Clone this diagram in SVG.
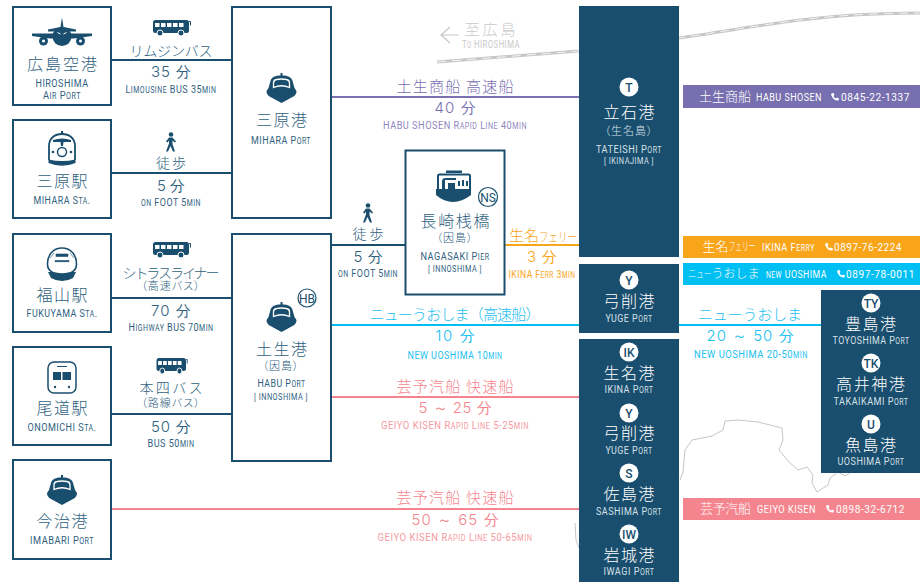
<svg xmlns="http://www.w3.org/2000/svg" width="920" height="582" viewBox="0 0 920 582">
<style>
text{text-anchor:middle}
.j{font-family:"Noto Sans CJK JP","Noto Sans",sans-serif;font-weight:300}
.t{font-size:16px}.m{font-size:14px}.p{font-size:11px;font-feature-settings:"palt";letter-spacing:1px}.r{font-size:15px}.b{font-size:13px}
.n{font-family:"Inter","Lato",sans-serif;font-weight:300;font-size:15px}
.c{font-family:"Liberation Sans Narrow","Roboto",sans-serif;font-size:11px;letter-spacing:.6px}
.c tspan{font-size:8.500px}
.navy{fill:#2f5f80}.w{fill:#fff}.wl{fill:#d5e0e8}.pu{fill:#7a70b2}.pl{fill:#8f87c0}.or{fill:#f9a51a}.cy{fill:#1cc0f2}.pk{fill:#f4858e}.pm{fill:#f69aa2}.gr{fill:#c9c9c9}
.box{fill:#fff;stroke:#1a4e6e;stroke-width:2}
.dark{fill:#1a4e6e}
.line{fill:none;stroke-width:2}
.badge{font-family:"Roboto",sans-serif;font-size:12px;font-weight:500;fill:#1a4e6e}
.ring{font-family:"Liberation Sans Narrow","Roboto",sans-serif;font-size:12px;fill:#1a4e6e}
</style>
<defs>
<g id="ship">
<path fill="#1a4e6e" d="M-1,-15h2v2.500C6,-12.500 10,-11 11,-7L13,0L15,3Q15,7 11,9L0,15L-11,9Q-15,7 -15,3L-13,0L-11,-7C-10,-11 -6,-12.500 -1,-12.500Z"/>
<path fill="#1a4e6e" stroke="#fff" stroke-width="1.300" d="M-8,-0.500V-5Q-8,-8 -5,-8.500Q0,-9.500 5,-8.500Q8,-8 8,-5V-0.500Q0,-4 -8,-0.500Z"/>
</g>
<g id="bus">
<rect x="0" y="0" width="36" height="13" rx="2.500" fill="#1a4e6e"/>
<path fill="none" stroke="#1a4e6e" d="M36,1.500h1.500v4"/>
<g fill="#fff"><rect x="2" y="3" width="4.500" height="4"/><rect x="8" y="3" width="4.500" height="4"/><rect x="14" y="3" width="4.500" height="4"/><rect x="20" y="3" width="4.500" height="4"/><rect x="26" y="3" width="4.500" height="4"/></g>
<g fill="#1a4e6e" stroke="#fff"><circle cx="7" cy="13" r="3"/><circle cx="28" cy="13" r="3"/></g>
</g>
<g id="walk" fill="#1a4e6e">
<circle cx="0" cy="-7.500" r="2.300"/>
<path d="M-2,-4.500H1.500L5,-0.500L4,0.500L1.500,-1.500L1.500,2L4,9.500H2L-0.500,4L-3,9.500H-5L-2,1.500V-1.500L-3.500,0.500L-5,-0.500Z"/>
</g>
<path id="tel" fill="#fff" d="M1,0L2.500,0L3.500,2L2.500,3Q3.500,5 5,5.500L6,4.500L8,5.500L7.500,7.500Q2,8 0,1.500Z"/>
</defs>

<g id="background" fill="none">
<path d="M437,62L579,51L679,38C720,32 760,25 800,20C840,15 880,13 920,13" stroke="#c6c6c6" stroke-width="3"/>
<path d="M437,62L579,51L679,38C720,32 760,25 800,20C840,15 880,13 920,13" stroke="#fff" stroke-width="0.800" stroke-dasharray="9 6"/>
<path d="M680,480L683,472L685,450L692,440L712,436L723,430L725,421L738,420L758,422L782,428L783,440L779,450L789,462L798,470L807,467L813,475L812,483L817,492L828,485L830,478L838,472L845,476L850,473" stroke="#c6c6c6" stroke-width="1"/>
<path d="M575,523L576,540L579,548" stroke="#c6c6c6" stroke-width="1"/>
<g stroke="#c6c6c6" stroke-width="1.200"><path d="M459,35H441M450,27L441,35L450,43"/></g>
<text class="j r gr" x="490" y="35" textLength="51">至広島</text>
<text class="c gr" x="491" y="48" textLength="58" lengthAdjust="spacingAndGlyphs">T<tspan>O</tspan> HIROSHIMA</text>
</g>

<g id="connectors">
<path class="line" stroke="#1a4e6e" d="M111,60H232M111,173H232M111,298H232M111,414H232M331,245H405"/>
<path class="line" stroke="#7a70b2" d="M331,97H579"/>
<path class="line" stroke="#f9a51a" d="M505,245H579"/>
<path class="line" stroke="#00bff3" d="M331,325H579M679,325H821"/>
<path class="line" stroke="#f4858e" d="M331,397H579M111,509H579"/>
<g>
<use href="#bus" x="153" y="20"/>
<text class="j m navy" x="171" y="56" textLength="83">リムジンバス</text>
<text class="n navy" x="171" y="77" textLength="40">35 分</text>
<text class="c navy" x="171" y="93" textLength="91" lengthAdjust="spacingAndGlyphs">L<tspan>IMOUSINE</tspan> BUS 35<tspan>MIN</tspan></text>
<use href="#walk" x="171" y="142"/>
<text class="j m navy" x="171" y="168" textLength="30">徒歩</text>
<text class="n navy" x="171" y="190.500" textLength="28">5 分</text>
<text class="c navy" x="171" y="206" textLength="60" lengthAdjust="spacingAndGlyphs"><tspan>ON</tspan> FOOT 5<tspan>MIN</tspan></text>
<use href="#bus" x="153" y="242"/>
<text class="j m navy" x="171" y="278" textLength="97">シトラスライナー</text>
<text class="j p navy" x="171" y="290">（高速バス）</text>
<text class="n navy" x="171" y="316" textLength="40">70 分</text>
<text class="c navy" x="171" y="331" textLength="85" lengthAdjust="spacingAndGlyphs">H<tspan>IGHWAY</tspan> BUS 70<tspan>MIN</tspan></text>
<use href="#bus" transform="translate(156.500,358) scale(.82,1)"/>
<text class="j m navy" x="171" y="393" textLength="63">本四バス</text>
<text class="j p navy" x="171" y="407">（路線バス）</text>
<text class="n navy" x="171" y="432" textLength="40">50 分</text>
<text class="c navy" x="171" y="447" textLength="47" lengthAdjust="spacingAndGlyphs">BUS 50<tspan>MIN</tspan></text>
<use href="#walk" x="368" y="213"/>
<text class="j m navy" x="368" y="239" textLength="31">徒歩</text>
<text class="n navy" x="368" y="262" textLength="29">5 分</text>
<text class="c navy" x="368" y="277" textLength="60" lengthAdjust="spacingAndGlyphs"><tspan>ON</tspan> FOOT 5<tspan>MIN</tspan></text>
<text class="j r pu" x="455" y="92" textLength="117">土生商船 高速船</text>
<text class="n pu" x="455" y="113" textLength="41">40 分</text>
<text class="c pl" x="455" y="129" textLength="144" lengthAdjust="spacingAndGlyphs">HABU SHOSEN R<tspan>APID</tspan> L<tspan>INE</tspan> 40<tspan>MIN</tspan></text>
<text class="j r or" x="543" y="241">生名<tspan font-size="13" textLength="38" lengthAdjust="spacingAndGlyphs">フェリー</tspan></text>
<text class="n or" x="542" y="262" textLength="30">3 分</text>
<text class="c or" x="542" y="278" textLength="67" lengthAdjust="spacingAndGlyphs">IKINA F<tspan>ERR</tspan> 3<tspan>MIN</tspan></text>
<text class="j r cy" x="455" y="320" textLength="171">ニューうおしま（高速船）</text>
<text class="n cy" x="455" y="341" textLength="39">10 分</text>
<text class="c cy" x="455" y="359" textLength="95" lengthAdjust="spacingAndGlyphs">NEW UOSHIMA 10<tspan>MIN</tspan></text>
<text class="j r pk" x="455" y="392" textLength="117">芸予汽船 快速船</text>
<text class="n pk" x="455" y="413" textLength="73">5 ～ 25 分</text>
<text class="c pm" x="455" y="429" textLength="148" lengthAdjust="spacingAndGlyphs">GEIYO KISEN R<tspan>APID</tspan> L<tspan>INE</tspan> 5-25<tspan>MIN</tspan></text>
<text class="j r pk" x="455" y="503" textLength="117">芸予汽船 快速船</text>
<text class="n pk" x="455" y="525" textLength="87">50 ～ 65 分</text>
<text class="c pm" x="455" y="541" textLength="155" lengthAdjust="spacingAndGlyphs">GEIYO KISEN R<tspan>APID</tspan> L<tspan>INE</tspan> 50-65<tspan>MIN</tspan></text>
<text class="j r cy" x="750" y="320" textLength="104">ニューうおしま</text>
<text class="n cy" x="750" y="341" textLength="87">20 ～ 50 分</text>
<text class="c cy" x="751" y="358" textLength="114" lengthAdjust="spacingAndGlyphs">NEW UOSHIMA 20-50<tspan>MIN</tspan></text>
</g>
</g>

<g id="hiroshima-airport">
<rect class="box" x="13" y="7" width="98" height="98"/>
<g fill="#1a4e6e">
<path d="M62,17.500L63.500,27L76,29.500V31.500L52,31.500L48,31.500V29.500L60.500,27Z"/>
<path d="M32,33.500L92,33.500V36L74,38.500H50L32,36Z"/>
<circle cx="62" cy="36.500" r="9.500"/>
<circle cx="43.500" cy="41" r="4.500"/><circle cx="80.500" cy="41" r="4.500"/>
</g>
<circle cx="43.500" cy="41" r="1.500" fill="#fff"/><circle cx="80.500" cy="41" r="1.500" fill="#fff"/>
<path d="M57.500,32.500L60.500,34M66.500,32.500L63.500,34" stroke="#fff" fill="none"/>
<text class="j t navy" x="62" y="70" textLength="70">広島空港</text>
<text class="c navy" x="62" y="87" textLength="53" lengthAdjust="spacingAndGlyphs">HIROSHIMA</text>
<text class="c navy" x="62" y="99" textLength="38" lengthAdjust="spacingAndGlyphs">A<tspan>IR</tspan> P<tspan>ORT</tspan></text>
</g>

<g id="mihara-station">
<rect class="box" x="13" y="120" width="98" height="98"/>
<path d="M49,160V146C49,138 55,134 62,134C69,134 75,138 75,146V160" fill="none" stroke="#1a4e6e" stroke-width="1.800"/>
<path d="M61,131h2v3h-2ZM53,140Q62,137 71,140V142H63.500L63,146H61L60.500,142H53Z" fill="#1a4e6e"/>
<circle cx="62" cy="152" r="4.500" fill="none" stroke="#1a4e6e" stroke-width="1.500"/>
<circle cx="53" cy="152" r="1.300" fill="#1a4e6e"/><circle cx="71" cy="152" r="1.300" fill="#1a4e6e"/>
<path d="M48.500,159.500Q62,162.500 75.500,159.500V163Q62,168.500 48.500,163Z" fill="#1a4e6e"/>
<text class="j t navy" x="62" y="187" textLength="51">三原駅</text>
<text class="c navy" x="62" y="204" textLength="57" lengthAdjust="spacingAndGlyphs">MIHARA S<tspan>TA</tspan>.</text>
</g>

<g id="mihara-port">
<rect class="box" x="232" y="7" width="99" height="211"/>
<use href="#ship" x="281.500" y="88"/>
<text class="j t navy" x="281.500" y="126" textLength="51">三原港</text>
<text class="c navy" x="281" y="144" textLength="60" lengthAdjust="spacingAndGlyphs">MIHARA P<tspan>ORT</tspan></text>
</g>

<g id="fukuyama-station">
<rect class="box" x="13" y="234" width="98" height="98"/>
<path d="M48,272L51,278Q56,281 62,281Q68,281 73,278L76,272Z" fill="#1a4e6e"/>
<path d="M47.500,264C47.500,254 54,248 62,248C70,248 76.500,254 76.500,264C76.500,271 72,274 62,274C52,274 47.500,271 47.500,264Z" fill="#fff" stroke="#1a4e6e" stroke-width="1.600"/>
<path d="M56,254h12v2.500h-12ZM55,260.500h14v1.200h-14ZM50,258L54,253M74,258L70,253" fill="#1a4e6e" stroke="#1a4e6e" stroke-width=".6"/>
<text class="j t navy" x="62" y="301" textLength="51">福山駅</text>
<text class="c navy" x="62" y="317" textLength="71" lengthAdjust="spacingAndGlyphs">FUKUYAMA S<tspan>TA</tspan>.</text>
</g>

<g id="onomichi-station">
<rect class="box" x="13" y="347" width="98" height="98"/>
<rect x="48" y="362" width="28" height="31" rx="6" fill="#fff" stroke="#1a4e6e" stroke-width="1.500"/>
<path d="M57,366h10v1h-10ZM53,372h8v8h-8ZM62.500,372h8.500v8h-8.500Z" fill="#1a4e6e"/>
<circle cx="55" cy="387" r="1.200" fill="#1a4e6e"/><circle cx="69" cy="387" r="1.200" fill="#1a4e6e"/>
<text class="j t navy" x="62" y="414" textLength="51">尾道駅</text>
<text class="c navy" x="62" y="431" textLength="69" lengthAdjust="spacingAndGlyphs">ONOMICHI S<tspan>TA</tspan>.</text>
</g>

<g id="imabari-port">
<rect class="box" x="13" y="460" width="98" height="99"/>
<use href="#ship" x="62" y="490"/>
<text class="j t navy" x="62" y="527" textLength="51">今治港</text>
<text class="c navy" x="62" y="544" textLength="64" lengthAdjust="spacingAndGlyphs">IMABARI P<tspan>ORT</tspan></text>
</g>

<g id="habu-port">
<rect class="box" x="232" y="234" width="99" height="227"/>
<use href="#ship" x="281.500" y="317"/>
<circle cx="307" cy="298" r="9" fill="#fff" stroke="#1a4e6e" stroke-width="1.200"/>
<text class="ring" x="307" y="302.500">HB</text>
<text class="j t navy" x="281.500" y="355" textLength="51">土生港</text>
<text class="j p navy" x="281" y="370">（因島）</text>
<text class="c navy" x="281.500" y="387" textLength="48" lengthAdjust="spacingAndGlyphs">HABU P<tspan>ORT</tspan></text>
<text class="c navy" x="281" y="400" textLength="54" lengthAdjust="spacingAndGlyphs" style="font-size:9px">[ INNOSHIMA ]</text>
</g>

<g id="nagasaki-pier">
<rect class="box" x="405.500" y="150.500" width="99" height="144"/>
<path d="M446,173v-2.500h16v2.500Z" fill="#1a4e6e"/>
<rect x="438" y="174.500" width="32" height="16" rx="1.500" fill="#fff" stroke="#1a4e6e" stroke-width="2"/>
<path d="M442,189V181Q442,178 446,178H456V180H445V189ZM448,183H455V189H448Z" fill="#1a4e6e"/>
<path d="M458,186v-5h2v5ZM462,186v-6h2v6ZM466,186v-5h2v5Z" fill="#1a4e6e"/>
<path d="M436,189H471V195Q462,202 453,202Q444,202 436,195Z" fill="#1a4e6e"/>
<circle cx="488" cy="197" r="9.500" fill="#fff" stroke="#1a4e6e" stroke-width="1.200"/>
<text class="ring" x="488" y="201.500">NS</text>
<text class="j t navy" x="455" y="227" textLength="69">長崎桟橋</text>
<text class="j p navy" x="455" y="242">（因島）</text>
<text class="c navy" x="455" y="260" textLength="69" lengthAdjust="spacingAndGlyphs">NAGASAKI P<tspan>IER</tspan></text>
<text class="c navy" x="455" y="272" textLength="54" lengthAdjust="spacingAndGlyphs" style="font-size:9px">[ INNOSHIMA ]</text>
</g>

<g id="tateishi-port">
<rect class="dark" x="579" y="6" width="100" height="251"/>
<circle cx="629" cy="87" r="9.500" fill="#fff"/><text class="badge" x="629" y="91.500">T</text>
<text class="j t w" x="629" y="118" textLength="51">立石港</text>
<text class="j p wl" x="629" y="135">（生名島）</text>
<text class="c wl" x="629" y="153" textLength="66" lengthAdjust="spacingAndGlyphs">TATEISHI P<tspan>ORT</tspan></text>
<text class="c wl" x="629" y="164" textLength="50" lengthAdjust="spacingAndGlyphs" style="font-size:9px">[ IKINAJIMA ]</text>
</g>

<g id="yuge-port-1">
<rect class="dark" x="579" y="264" width="100" height="69"/>
<circle cx="629" cy="280" r="9.500" fill="#fff"/><text class="badge" x="629" y="284.500">Y</text>
<text class="j t w" x="629" y="307" textLength="51">弓削港</text>
<text class="c wl" x="629" y="322" textLength="47" lengthAdjust="spacingAndGlyphs">YUGE P<tspan>ORT</tspan></text>
</g>

<g id="south-ports">
<rect class="dark" x="579" y="339" width="100" height="243"/>
<circle cx="629" cy="352" r="9.500" fill="#fff"/><text class="badge" x="629" y="356.500">IK</text>
<text class="j t w" x="629" y="379" textLength="51">生名港</text>
<text class="c wl" x="629" y="393" textLength="49" lengthAdjust="spacingAndGlyphs">IKINA P<tspan>ORT</tspan></text>
<circle cx="629" cy="413" r="9.500" fill="#fff"/><text class="badge" x="629" y="417.500">Y</text>
<text class="j t w" x="629" y="439" textLength="51">弓削港</text>
<text class="c wl" x="629" y="454" textLength="47" lengthAdjust="spacingAndGlyphs">YUGE P<tspan>ORT</tspan></text>
<circle cx="629" cy="473" r="9.500" fill="#fff"/><text class="badge" x="629" y="477.500">S</text>
<text class="j t w" x="629" y="500" textLength="51">佐島港</text>
<text class="c wl" x="629" y="515" textLength="66" lengthAdjust="spacingAndGlyphs">SASHIMA P<tspan>ORT</tspan></text>
<circle cx="629" cy="534" r="9.500" fill="#fff"/><text class="badge" x="629" y="538.500">IW</text>
<text class="j t w" x="629" y="561" textLength="51">岩城港</text>
<text class="c wl" x="629" y="575" textLength="51" lengthAdjust="spacingAndGlyphs">IWAGI P<tspan>ORT</tspan></text>
</g>

<g id="east-ports">
<rect class="dark" x="821" y="290" width="99" height="183"/>
<circle cx="871" cy="303" r="9.500" fill="#fff"/><text class="badge" x="871" y="307.500">TY</text>
<text class="j t w" x="870.500" y="330" textLength="51">豊島港</text>
<text class="c wl" x="871" y="344" textLength="77" lengthAdjust="spacingAndGlyphs">TOYOSHIMA P<tspan>ORT</tspan></text>
<circle cx="871" cy="363" r="9.500" fill="#fff"/><text class="badge" x="871" y="367.500">TK</text>
<text class="j t w" x="870.500" y="390" textLength="69">高井神港</text>
<text class="c wl" x="871" y="405" textLength="75" lengthAdjust="spacingAndGlyphs">TAKAIKAMI P<tspan>ORT</tspan></text>
<circle cx="871" cy="424" r="9.500" fill="#fff"/><text class="badge" x="871" y="428.500">U</text>
<text class="j t w" x="870.500" y="451" textLength="51">魚島港</text>
<text class="c wl" x="871" y="465" textLength="67" lengthAdjust="spacingAndGlyphs">UOSHIMA P<tspan>ORT</tspan></text>
</g>

<g id="contact-habu">
<rect x="683" y="85" width="237" height="23" fill="#776fb0"/>
<text class="j b w" x="725" y="101" textLength="52">土生商船</text>
<text class="c w" x="789" y="101" textLength="66" lengthAdjust="spacingAndGlyphs">HABU SHOSEN</text>
<use href="#tel" x="831" y="93"/>
<text class="c w" x="875.500" y="101" textLength="69" lengthAdjust="spacingAndGlyphs">0845-22-1337</text>
</g>
<g id="contact-ikina">
<rect x="683" y="236" width="237" height="22" fill="#f9a51a"/>
<text class="j b w" x="729" y="251">生名<tspan font-size="12" textLength="27" lengthAdjust="spacingAndGlyphs">フェリー</tspan></text>
<text class="c w" x="788.500" y="251" textLength="53" lengthAdjust="spacingAndGlyphs">IKINA F<tspan>ERRY</tspan></text>
<use href="#tel" x="825" y="243"/>
<text class="c w" x="868" y="251" textLength="68" lengthAdjust="spacingAndGlyphs">0897-76-2224</text>
</g>
<g id="contact-uoshima">
<rect x="683" y="263" width="237" height="22" fill="#00bff3"/>
<text class="j b w" x="724" y="278" style="font-size:12px"><tspan font-size="11" textLength="23" lengthAdjust="spacingAndGlyphs">ニュー</tspan>うおしま</text>
<text class="c w" x="796.500" y="278" textLength="61" lengthAdjust="spacingAndGlyphs"><tspan>NEW</tspan> UOSHIMA</text>
<use href="#tel" x="837" y="270"/>
<text class="c w" x="880.500" y="278" textLength="69" lengthAdjust="spacingAndGlyphs">0897-78-0011</text>
</g>
<g id="contact-geiyo">
<rect x="683" y="498" width="237" height="22" fill="#f4858e"/>
<text class="j b w" x="725.500" y="513" textLength="51">芸予汽船</text>
<text class="c w" x="786.500" y="513" textLength="59" lengthAdjust="spacingAndGlyphs">GEIYO KISEN</text>
<use href="#tel" x="826" y="505"/>
<text class="c w" x="870.500" y="513" textLength="69" lengthAdjust="spacingAndGlyphs">0898-32-6712</text>
</g>
</svg>
